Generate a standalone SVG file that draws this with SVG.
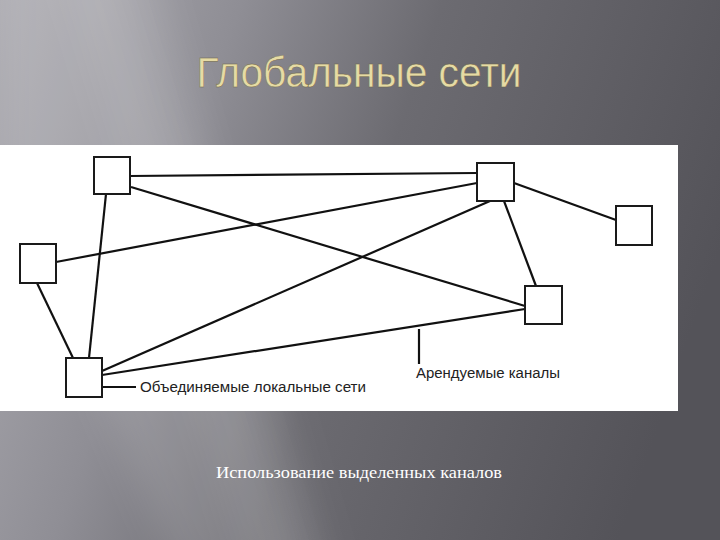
<svg xmlns="http://www.w3.org/2000/svg" width="720" height="540" viewBox="0 0 720 540">
<defs>
<linearGradient id="bg" x1="0" y1="0" x2="720" y2="250" gradientUnits="userSpaceOnUse">
<stop offset="0" stop-color="#acabb1"/>
<stop offset="0.3" stop-color="#8f8e95"/>
<stop offset="0.55" stop-color="#6c6b71"/>
<stop offset="1" stop-color="#545359"/>
</linearGradient>
<filter id="soft" x="-50%" y="-20%" width="200%" height="140%">
<feGaussianBlur stdDeviation="18"/>
</filter>
<style>
.node{fill:#ffffff;stroke:#1a1a1a;stroke-width:2}
.edge{stroke:#111111;stroke-width:2.2;fill:none}
.lbl{font-family:"Liberation Sans",Arial,sans-serif;font-size:14px;fill:#222222}
</style>
</defs>
<rect x="0" y="0" width="720" height="540" fill="url(#bg)"/>
<polygon points="0,-40 150,-40 330,580 180,580 0,160" fill="#ffffff" fill-opacity="0.12" filter="url(#soft)"/>
<polygon points="60,-40 110,-40 300,580 250,580" fill="#ffffff" fill-opacity="0.08" filter="url(#soft)"/>
<text x="359" y="87" text-anchor="middle" font-family="'Liberation Sans',Arial,sans-serif" font-size="42" fill="#e6dba4" stroke="#6b6346" stroke-width="0.4" textLength="325" lengthAdjust="spacingAndGlyphs">Глобальные сети</text>
<rect x="0" y="145" width="678" height="266" fill="#ffffff"/>
<g id="connectors">
<line class="edge" x1="130" y1="176" x2="477" y2="173"/>
<line class="edge" x1="131" y1="187" x2="525" y2="306"/>
<line class="edge" x1="56" y1="262" x2="477" y2="183"/>
<line class="edge" x1="37" y1="283" x2="73" y2="358"/>
<line class="edge" x1="106" y1="194" x2="89" y2="358"/>
<line class="edge" x1="102" y1="371" x2="490" y2="201"/>
<line class="edge" x1="102" y1="375" x2="525" y2="309"/>
<line class="edge" x1="504" y1="201" x2="536" y2="286"/>
<line class="edge" x1="514" y1="183" x2="616" y2="220"/>
<line class="edge" x1="102" y1="387" x2="136" y2="387"/>
<line class="edge" x1="419" y1="329" x2="419" y2="364"/>
</g>
<g id="n1"><rect class="node" x="94" y="157" width="36" height="37"/></g>
<g id="n2"><rect class="node" x="20" y="244" width="36" height="39"/></g>
<g id="n3"><rect class="node" x="66" y="358" width="36" height="39"/></g>
<g id="n4"><rect class="node" x="477" y="163" width="37" height="38"/></g>
<g id="n5"><rect class="node" x="616" y="206" width="36" height="39"/></g>
<g id="n6"><rect class="node" x="525" y="286" width="37" height="38"/></g>
<text class="lbl" x="140" y="392" textLength="226" lengthAdjust="spacingAndGlyphs">Объединяемые локальные сети</text>
<text class="lbl" x="416" y="378" textLength="144" lengthAdjust="spacingAndGlyphs">Арендуемые каналы</text>
<text x="359" y="478" text-anchor="middle" font-family="'Liberation Serif','Times New Roman',serif" font-size="16" fill="#ffffff" textLength="286" lengthAdjust="spacingAndGlyphs">Использование выделенных каналов</text>
</svg>
